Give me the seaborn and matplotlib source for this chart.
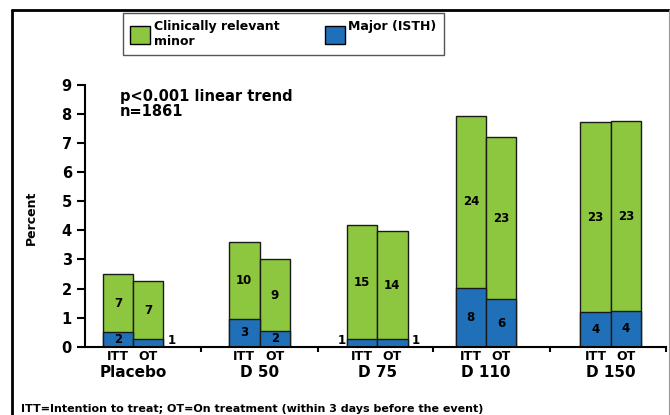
import numpy as np
import pandas as pd
import matplotlib.pyplot as plt
import matplotlib.transforms as mtransforms
from matplotlib.lines import Line2D
from matplotlib.patches import Patch
import seaborn as sns

# data
groups = ['Placebo', 'D 50', 'D 75', 'D 110', 'D 150']
arms = ['ITT', 'OT']
major_pct = [0.50, 0.25, 0.95, 0.54, 0.25, 0.25, 2.03, 1.63, 1.19, 1.22]
minor_pct = [2.00, 2.00, 2.65, 2.46, 3.92, 3.72, 5.90, 5.59, 6.54, 6.53]
major_n = [2, 1, 3, 2, 1, 1, 8, 6, 4, 4]
minor_n = [7, 7, 10, 9, 15, 14, 24, 23, 23, 23]

# layout (x unit = one bar width)
group_centers = [1.58, 5.74, 9.61, 13.19, 17.29]
group_edges = [3.82, 7.65, 11.45, 15.30, 19.11]

green = '#8DC63F'
blue = '#1F70B8'

df = pd.DataFrame({
    'group': np.repeat(groups, 2),
    'arm': arms * len(groups),
    'major': major_pct,
    'minor': minor_pct,
    'major_n': major_n,
    'minor_n': minor_n,
})
df['total'] = df['major'] + df['minor']
df['x'] = np.repeat(group_centers, 2) + np.tile([-0.5, 0.5], len(groups))

sns.set_style('white')
plt.rcParams['font.family'] = ['DejaVu Sans']
plt.rcParams['font.weight'] = 'bold'
plt.rcParams['text.color'] = 'black'
plt.rcParams['axes.labelcolor'] = 'black'
plt.rcParams['xtick.color'] = 'black'
plt.rcParams['ytick.color'] = 'black'

fig = plt.figure(figsize=(6.7, 4.15), dpi=100)
ax = fig.add_axes([85 / 670, 68.3 / 415, 581 / 670, 261.7 / 415])

# stacked bars: totals in green, major overlaid in blue
sns.barplot(data=df, x='x', y='total', orient='x', native_scale=True, width=1,
            color=green, saturation=1, edgecolor='#1a1a1a', linewidth=1,
            errorbar=None, ax=ax)
sns.barplot(data=df, x='x', y='major', orient='x', native_scale=True, width=1,
            color=blue, saturation=1, edgecolor='#1a1a1a', linewidth=1,
            errorbar=None, ax=ax)

ax.set_xlim(0, 19.11)
ax.set_ylim(0, 9)
ax.set_yticks(range(10))
ax.set_xticks(group_edges)
ax.set_xticklabels([])
ax.set_xlabel('')
ax.set_ylabel('')
for s in ['top', 'right']:
    ax.spines[s].set_visible(False)
for s in ['left', 'bottom']:
    ax.spines[s].set_color('black')
    ax.spines[s].set_linewidth(1.5)
ax.tick_params(axis='y', direction='out', length=5.5, width=1.5, labelsize=10.5,
               pad=4, left=True, colors='black')
ax.tick_params(axis='x', direction='out', length=3.5, width=1.5, bottom=True,
               colors='black')

# counts inside / beside the segments
for _, r in df.iterrows():
    ax.text(r['x'], r['major'] + r['minor'] / 2, str(r['minor_n']),
            ha='center', va='center', fontsize=8.5)
    if r['major'] >= 0.4:
        ax.text(r['x'], r['major'] / 2, str(r['major_n']),
                ha='center', va='center', fontsize=8.5)
    elif r['arm'] == 'OT':
        ax.annotate(str(r['major_n']), (r['x'] + 0.5, 0.22), xytext=(3, 0),
                    textcoords='offset points', ha='left', va='center', fontsize=8.5)
    else:
        ax.annotate(str(r['major_n']), (r['x'] - 0.5, 0.22), xytext=(-1, 0),
                    textcoords='offset points', ha='right', va='center', fontsize=8.5)

# arm and group labels under the axis
trans = mtransforms.blended_transform_factory(ax.transData, ax.transAxes)
for _, r in df.iterrows():
    ax.text(r['x'], -0.051, r['arm'], transform=trans, ha='center',
            va='baseline', fontsize=9)
for c, g in zip(group_centers, groups):
    ax.text(c, -0.117, g, transform=trans, ha='center', va='baseline', fontsize=11)

ax.text(0.06, 0.94, 'p<0.001 linear trend', transform=ax.transAxes,
        va='baseline', fontsize=10.5)
ax.text(0.06, 0.882, 'n=1861', transform=ax.transAxes, va='baseline', fontsize=10.5)

fig.text(31 / 670, 1 - 218 / 415, 'Percent', rotation=90, ha='center',
         va='center', fontsize=9)
fig.text(21 / 670, 1 - 412 / 415,
         'ITT=Intention to treat; OT=On treatment (within 3 days before the event)',
         va='baseline', fontsize=8)

handles = [Patch(facecolor=green, edgecolor='black', label='Clinically relevant\nminor'),
           Patch(facecolor=blue, edgecolor='black', label='Major (ISTH)\n ')]
leg = fig.legend(handles=handles, loc='upper left', bbox_to_anchor=(123 / 670, 1 - 13 / 415),
                 borderaxespad=0, ncol=2, fontsize=9, fancybox=False, framealpha=1,
                 edgecolor='#555555', handlelength=1.6, handleheight=1.76,
                 handletextpad=0.32, columnspacing=3.6, borderpad=0.55)
leg.get_frame().set_linewidth(1)

# slide frame
fig.add_artist(Line2D([12.5 / 670, 12.5 / 670], [1 - 10.5 / 415, 0], color='black', lw=2))
fig.add_artist(Line2D([12.5 / 670, 669 / 670], [1 - 10.5 / 415, 1 - 10.5 / 415],
                      color='black', lw=2))
fig.add_artist(Line2D([669 / 670, 669 / 670], [1 - 10.5 / 415, 0], color='#999999', lw=0.8))

fig.savefig('out.png', dpi=100)
